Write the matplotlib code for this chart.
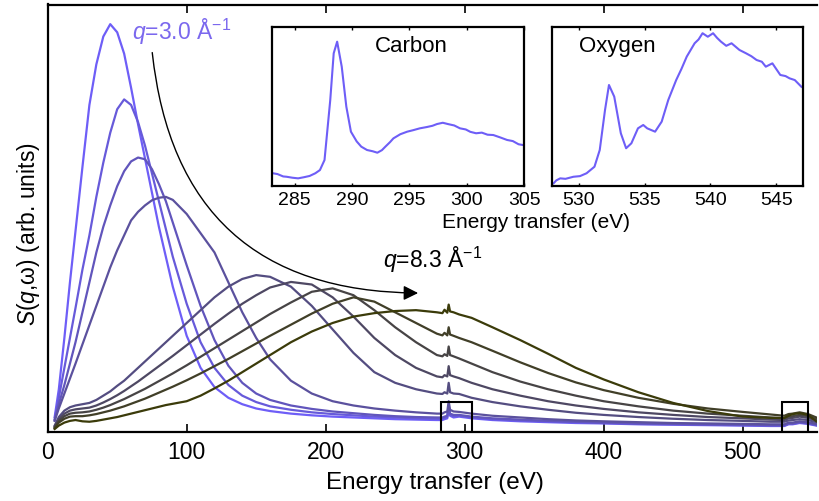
import numpy as np
import matplotlib
matplotlib.use('Agg')
import matplotlib.pyplot as plt
from matplotlib.patches import Rectangle, FancyArrowPatch

plt.rcParams['font.family'] = ['Liberation Sans', 'DejaVu Sans']
plt.rcParams['mathtext.fontset'] = 'custom'
plt.rcParams['mathtext.rm'] = 'Liberation Sans'
plt.rcParams['mathtext.it'] = 'Liberation Sans:italic'

# energy grid (eV) shared by all spectra
energy = [5, 8, 12, 16, 20, 25, 30, 35, 40, 45, 50, 55, 60, 65, 70, 75, 80, 85, 90,
          100, 110, 120, 130, 140, 150, 160, 175, 190, 205, 220, 235, 250, 265, 280,
          284, 285.5, 287.5, 288.5, 289.5, 292, 296,
          305, 320, 340, 360, 380, 400, 425, 450, 475, 500, 520, 530,
          533, 536, 541, 547, 553]

# S(q,w), q = 3.0 ... 8.3 1/A
s_q1 = [3.5, 10, 22, 35, 47, 62, 76.5, 86, 92.5, 95.4, 93.5, 88.5, 80.5, 72, 64, 56, 48, 41, 34,
        22.5, 15, 10.5, 8, 6.5, 5.5, 4.9, 4.3, 3.9, 3.6, 3.4, 3.2, 3.0, 2.9, 2.8,
        2.8, 3.0, 3.2, 5.8, 3.8, 3.4, 3.6,
        3.2, 2.8, 2.5, 2.3, 2.1, 2.0, 1.8, 1.7, 1.6, 1.5, 1.4, 1.4,
        1.8, 1.8, 2.1, 1.9, 1.5]
s_q2 = [3.0, 8, 15, 22, 29, 38, 46, 55, 63, 70, 75.5, 77.8, 76.5, 72.5, 67, 60.5, 54, 47.5, 41,
        30, 21, 15, 11, 8.5, 7, 6, 5.2, 4.6, 4.2, 3.9, 3.6, 3.4, 3.2, 3.1,
        3.1, 3.3, 3.5, 6.0, 4.0, 3.7, 3.8,
        3.4, 3.0, 2.7, 2.5, 2.3, 2.1, 1.9, 1.8, 1.7, 1.6, 1.5, 1.5,
        1.9, 1.9, 2.2, 2.0, 1.6]
s_q3 = [2.8, 6.5, 11, 16, 21, 28, 35, 42, 48, 53, 57.5, 61, 63.3, 64.2, 63.8, 61.5, 58, 54, 49,
        39, 29.5, 21.5, 15.5, 11.5, 9, 7.5, 6.2, 5.4, 4.8, 4.4, 4.0, 3.7, 3.5, 3.4,
        3.4, 3.6, 3.8, 6.2, 4.3, 4.0, 4.0,
        3.6, 3.2, 2.9, 2.6, 2.4, 2.2, 2.0, 1.9, 1.8, 1.7, 1.6, 1.6,
        2.0, 2.0, 2.3, 2.1, 1.7]
s_q4 = [2.6, 5.5, 9, 12.5, 16, 20.5, 25, 29.5, 34, 38.5, 42.5, 46, 49.5, 51.5, 53, 54.2, 54.8, 55, 54.3,
        51, 46.5, 42, 35, 28, 22, 17, 12, 9, 7.2, 6.2, 5.5, 5.0, 4.6, 4.3,
        4.3, 4.6, 4.8, 7.2, 5.2, 4.8, 4.7,
        4.3, 3.8, 3.4, 3.0, 2.7, 2.5, 2.3, 2.1, 2.0, 1.9, 1.8, 1.8,
        2.2, 2.2, 2.5, 2.3, 1.9]
s_q5 = [1.5, 3.5, 5, 5.8, 6.2, 6.5, 6.8, 7.5, 8.5, 9.5, 10.8, 12, 13.5, 15, 16.5, 18, 19.5, 21, 22.5,
        25.5, 28.5, 31.5, 34, 35.8, 36.7, 36.3, 34, 29.5, 24, 18.5, 14, 11.5, 10, 9.0,
        8.9, 9.3, 9.0, 11.5, 9.3, 9.0, 8.9,
        8.0, 7.0, 6.0, 5.2, 4.5, 4.0, 3.5, 3.1, 2.8, 2.6, 2.4, 2.4,
        2.7, 2.8, 3.0, 2.8, 2.3]
s_q6 = [1.3, 3, 4.3, 5, 5.3, 5.5, 5.7, 6.2, 6.9, 7.7, 8.6, 9.6, 10.7, 11.8, 13, 14.2, 15.4, 16.6, 17.8,
        20.3, 22.8, 25.3, 27.7, 30, 32, 33.8, 35.1, 34.5, 31.5, 27, 22, 18, 15, 13.0,
        12.8, 13.3, 13.0, 15.4, 13.3, 13.0, 12.6,
        11.5, 10, 8.5, 7.2, 6.2, 5.4, 4.6, 4.0, 3.5, 3.2, 2.9, 2.8,
        3.2, 3.3, 3.6, 3.3, 2.7]
s_q7 = [1.1, 2.6, 3.7, 4.3, 4.5, 4.6, 4.8, 5.2, 5.7, 6.3, 7.0, 7.7, 8.5, 9.3, 10.1, 11, 11.9, 12.8, 13.7,
        15.6, 17.6, 19.6, 21.6, 23.6, 25.6, 27.6, 30.3, 32.8, 33.6, 32, 28.5, 24.5, 21, 18.0,
        17.7, 18.2, 17.8, 20.0, 18.0, 17.7, 17.2,
        16, 14, 11.8, 10, 8.5, 7.2, 6, 5, 4.3, 3.8, 3.4, 3.2,
        3.6, 3.7, 4.0, 3.7, 3.0]
s_q8 = [0.9, 2.2, 3.1, 3.6, 3.7, 3.7, 3.9, 4.2, 4.6, 5.0, 5.5, 6.0, 6.6, 7.2, 7.8, 8.5, 9.2, 9.9, 10.6,
        12.1, 13.7, 15.4, 17.1, 18.9, 20.7, 22.5, 25.1, 27.7, 30, 31.5, 30.5, 28, 25.5, 23.0,
        22.6, 23.2, 22.6, 24.5, 22.8, 22.5, 22.0,
        21, 19, 16.3, 13.8, 11.6, 9.8, 8, 6.6, 5.5, 4.7, 4.1, 3.8,
        4.2, 4.3, 4.6, 4.2, 3.4]
s_q9 = [0.7, 1.5, 2.2, 2.6, 2.8, 2.5, 2.4, 2.6, 2.9, 3.2, 3.5, 3.9, 4.3, 4.7, 5.1, 5.5, 5.9, 6.3, 6.6,
        7.2, 8.5, 10.2, 12, 14, 16, 18, 21, 23.5, 25.5, 27, 27.8, 28.3, 28.5, 28.0,
        27.8, 28.6, 27.9, 29.8, 28.2, 28.0, 27.5,
        26.7, 24.5, 21.5, 18.3, 15, 12.3, 9.3, 6.8, 4.9, 3.6, 3.3, 3.3,
        3.8, 4.2, 4.4, 4.0, 2.5]
spectra = [s_q1, s_q2, s_q3, s_q4, s_q5, s_q6, s_q7, s_q8, s_q9]

# carbon K edge (inset), normalised
c_energy = [283.1, 283.5, 284.0, 284.3, 284.8, 285.3, 285.8, 286.3, 286.8, 287.2, 287.6, 288.1, 288.4,
            288.7, 289.1, 289.5, 289.9, 290.4, 290.8, 291.3, 291.8, 292.2, 292.6, 292.9, 293.3, 293.6,
            294.2, 294.8, 295.3, 295.9, 296.5, 297.0, 297.4, 297.9, 298.4, 298.9, 299.4, 299.9, 300.3,
            300.8, 301.3, 301.8, 302.3, 302.9, 303.5, 304.0, 304.5, 304.9]
c_signal = [0.080, 0.075, 0.060, 0.058, 0.052, 0.048, 0.055, 0.063, 0.080, 0.10, 0.163, 0.54, 0.833,
            0.906, 0.749, 0.498, 0.341, 0.280, 0.247, 0.226, 0.218, 0.209, 0.225, 0.247, 0.275, 0.299,
            0.325, 0.341, 0.350, 0.362, 0.370, 0.378, 0.389, 0.397, 0.388, 0.380, 0.362, 0.355, 0.340,
            0.331, 0.335, 0.322, 0.320, 0.305, 0.289, 0.282, 0.262, 0.257]

# oxygen K edge (inset), normalised
o_energy = [528.1, 528.3, 528.6, 529.0, 529.6, 530.1, 530.6, 531.2, 531.6, 532.0, 532.3, 532.7, 533.2,
            533.6, 534.0, 534.5, 534.9, 535.2, 535.8, 536.3, 536.8, 537.4, 537.8, 538.2, 538.8, 539.1,
            539.4, 539.8, 540.2, 540.5, 540.8, 541.2, 541.6, 542.2, 542.7, 543.1, 543.5, 543.9, 544.2,
            544.7, 545.3, 545.7, 546.0, 546.4, 546.9]
o_signal = [0.017, 0.035, 0.048, 0.045, 0.058, 0.062, 0.080, 0.121, 0.226, 0.477, 0.634, 0.561, 0.331,
            0.237, 0.268, 0.362, 0.383, 0.362, 0.341, 0.404, 0.540, 0.665, 0.735, 0.812, 0.896, 0.920,
            0.959, 0.937, 0.959, 0.930, 0.906, 0.880, 0.896, 0.854, 0.833, 0.815, 0.791, 0.780, 0.749,
            0.770, 0.697, 0.690, 0.676, 0.665, 0.623]

c_start = np.array([0.43, 0.37, 0.97])
c_end = np.array([0.23, 0.23, 0.04])
n = len(spectra)
colors = [tuple(c_start + (c_end - c_start) * i / (n - 1)) for i in range(n)]

fig = plt.figure(figsize=(8.19, 5.01), dpi=100)
W, H = 819.0, 501.0
ax = fig.add_axes([47.7 / W, (H - 432) / H, (817 - 47.7) / W, (432 - 4.5) / H])

for s, col in zip(spectra, colors):
    ax.plot(energy, s, color=col, lw=1.6)

ax.set_xlim(0, 553.5)
ax.set_ylim(0, 100)
ax.set_xticks([0, 100, 200, 300, 400, 500])
ax.set_yticks([])
ax.tick_params(axis='x', direction='in', top=True, length=5.5, width=1.2,
               labelsize=16.5, pad=6.5)
for side in ['left', 'top', 'bottom']:
    ax.spines[side].set_linewidth(1.6)
ax.spines['right'].set_visible(False)

ax.set_xlabel('Energy transfer (eV)', fontsize=17.5)
ax.xaxis.set_label_coords(0.504, -0.093)
ax.set_ylabel(r'$S$($q$,ω) (arb. units)', fontsize=16.5)
ax.yaxis.set_label_coords(-0.008, 0.462)

# boxes marking the inset regions
ax.add_patch(Rectangle((283, 0), 22, 7.0, fill=False, lw=1.5, ec='black', zorder=5))
ax.add_patch(Rectangle((528, 0), 19, 7.0, fill=False, lw=1.5, ec='black', zorder=5))

ax.text(60.4, 93.6, r'$q$=3.0 Å$^{-1}$', color='#7b68ee', fontsize=16.5, va='center', ha='left')
ax.text(241.5, 40.2, r'$q$=8.3 Å$^{-1}$', color='black', fontsize=16.5, va='center', ha='left')

arrow = FancyArrowPatch((75.0, 89.4), (268.5, 32.5), connectionstyle='arc3,rad=0.45',
                        arrowstyle='-|>', mutation_scale=22, lw=1.0, color='black')
ax.add_patch(arrow)

# insets
def inset(rect, x, y, xlim, ticks, name, name_x):
    a = fig.add_axes(rect)
    a.plot(x, y, color=colors[0], lw=1.5)
    a.set_xlim(*xlim)
    a.set_ylim(0, 1)
    a.set_xticks(ticks)
    a.set_yticks([])
    a.tick_params(axis='x', direction='in', top=True, length=2.5, width=1.0,
                  labelsize=14, pad=4)
    for sp in a.spines.values():
        sp.set_linewidth(1.6)
    a.text(name_x, 0.874, name, transform=a.transAxes, fontsize=16, ha='center', va='center')
    return a

inset([271.7 / W, (H - 186) / H, 252.6 / W, 159.3 / H], c_energy, c_signal,
      (283, 305), [285, 290, 295, 300, 305], 'Carbon', 0.554)
inset([552.3 / W, (H - 186) / H, 250.4 / W, 159.3 / H], o_energy, o_signal,
      (528, 547), [530, 535, 540, 545], 'Oxygen', 0.26)
fig.text(535.8 / W, 1 - 223 / H, 'Energy transfer (eV)', fontsize=15, ha='center', va='center')

fig.savefig('out.png', dpi=100)
